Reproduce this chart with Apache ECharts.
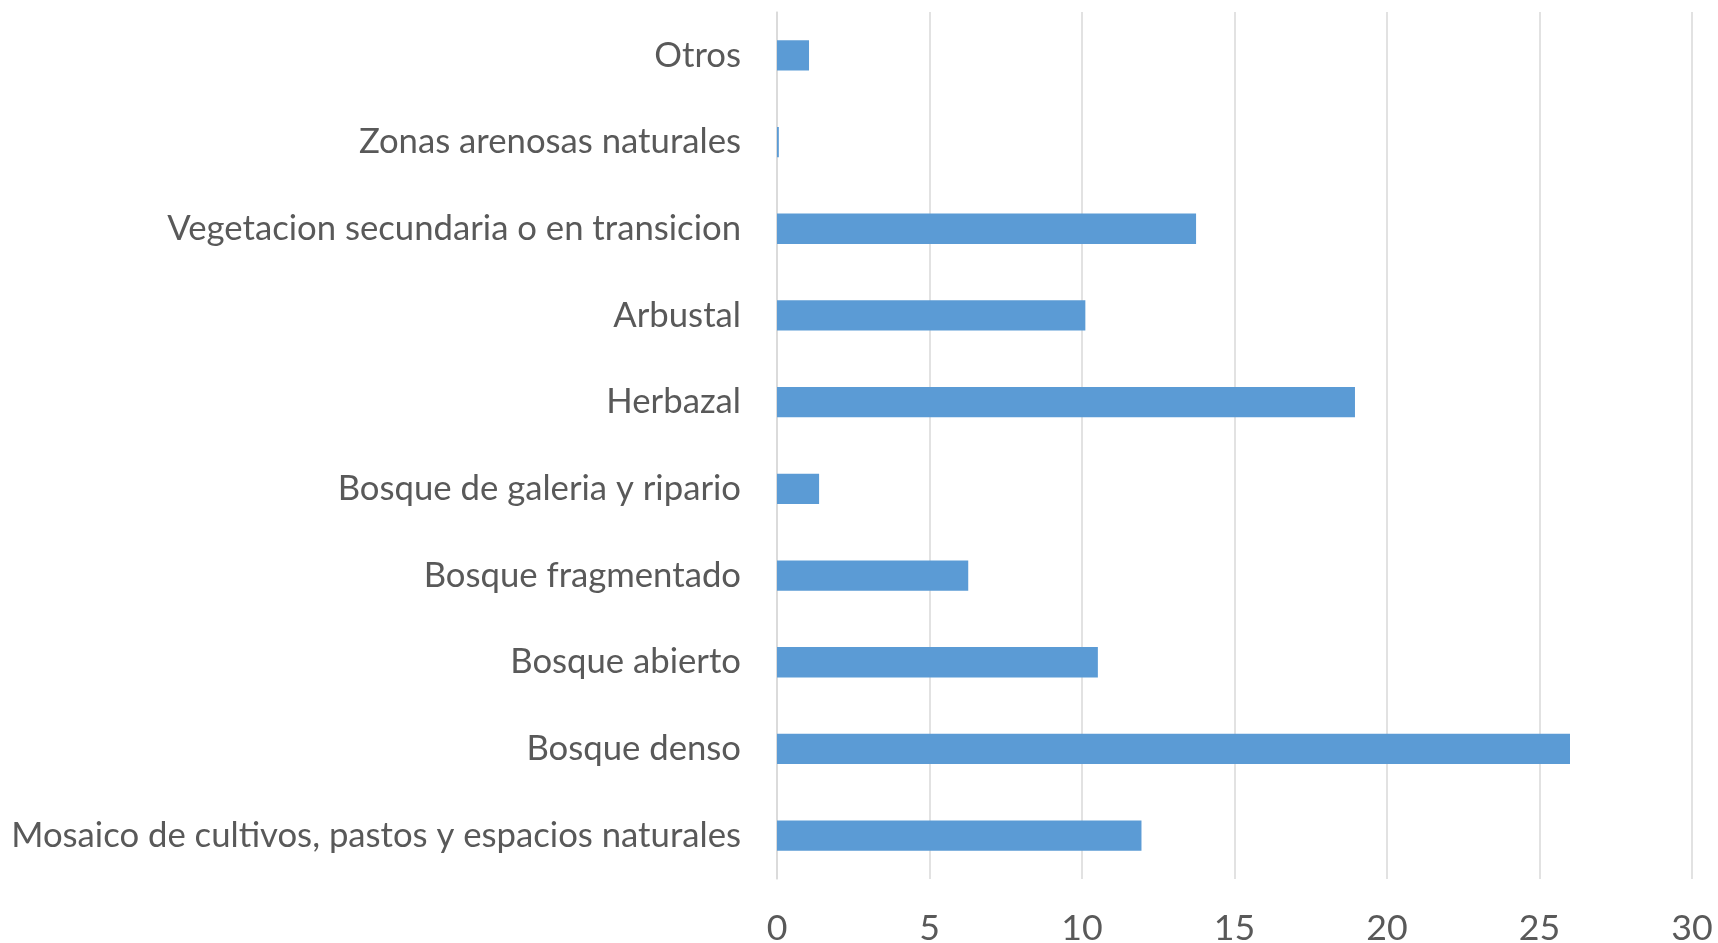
<!DOCTYPE html>
<html>
<head>
<meta charset="utf-8">
<style>
  html, body { margin: 0; padding: 0; background: #ffffff; }
  #chart { width: 1718px; height: 943px; }
</style>
<script src="https://cdn.jsdelivr.net/npm/echarts@6/dist/echarts.min.js"></script>
</head>
<body>
<div id="chart"></div>
<script>
// Categories listed bottom to top
const categories = [
  "Mosaico de cultivos, pastos y espacios naturales",
  "Bosque denso",
  "Bosque abierto",
  "Bosque fragmentado",
  "Bosque de galeria y ripario",
  "Herbazal",
  "Arbustal",
  "Vegetacion secundaria o en transicion",
  "Zonas arenosas naturales",
  "Otros"
];
const values = [11.95, 26.0, 10.52, 6.27, 1.38, 18.95, 10.11, 13.74, 0.06, 1.05];
const xTicks = [0, 5, 10, 15, 20, 25, 30];

const FONT = "Lato";
const TEXT = "#595959";

// fit the font size so the longest label spans like the reference
const cv = document.createElement("canvas").getContext("2d");
cv.font = "100px " + FONT;
const longest = Math.max(...categories.map(c => cv.measureText(c).width));
let fs = Math.round(100 * 730 / longest * 10) / 10;
if (!(fs > 10 && fs < 60)) fs = 30;

const chart = echarts.init(document.getElementById("chart"), null, { renderer: "canvas" });
chart.setOption({
  animation: false,
  backgroundColor: "#ffffff",
  grid: { left: 777, right: 26, top: 12, bottom: 64, containLabel: false, outerBoundsMode: "none" },
  xAxis: {
    type: "value",
    min: xTicks[0],
    max: xTicks[xTicks.length - 1],
    interval: xTicks[1] - xTicks[0],
    axisLine: { show: false },
    axisTick: { show: false },
    splitLine: { show: true, lineStyle: { color: "#D9D9D9", width: 1.5 } },
    axisLabel: { color: TEXT, fontFamily: FONT, fontSize: fs + 1, margin: 31 }
  },
  yAxis: {
    type: "category",
    data: categories,
    axisLine: { show: true, lineStyle: { color: "#D9D9D9", width: 1.5 } },
    axisTick: { show: false },
    splitLine: { show: false },
    axisLabel: { color: TEXT, fontFamily: FONT, fontSize: fs, margin: 36 }
  },
  series: [{
    type: "bar",
    data: values,
    barWidth: "35%",
    itemStyle: { color: "#5B9BD5" }
  }]
});
</script>
</body>
</html>
